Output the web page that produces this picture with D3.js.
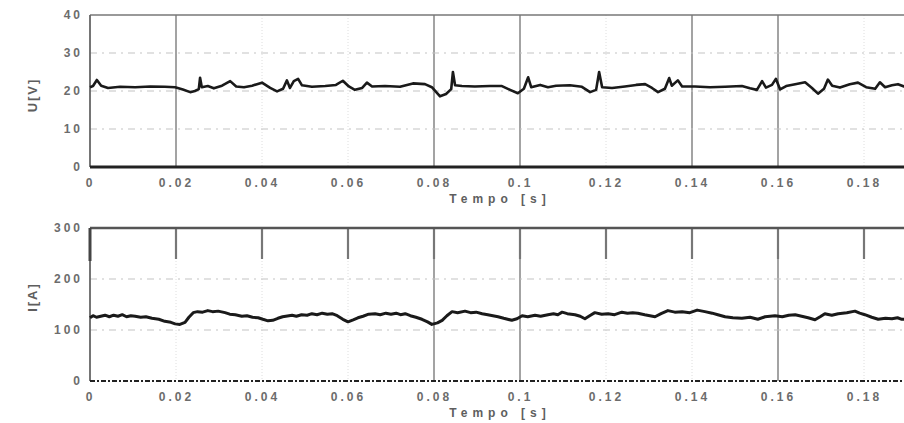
<!DOCTYPE html>
<html>
<head>
<meta charset="utf-8">
<script src="https://cdn.jsdelivr.net/npm/d3@7"></script>
<style>
    body { margin: 0; background: #fff; }
    svg { display: block; }
    .tick text { font-family: "Liberation Sans", Arial, sans-serif; font-size: 12px; font-weight: bold; fill: #6c6c6c; letter-spacing: 3px; }
    .title { font-family: "Liberation Sans", Arial, sans-serif; font-size: 12px; font-weight: bold; fill: #5e5e5e; letter-spacing: 5px; }
</style>
</head>
<body>
<svg width="904" height="423"></svg>
<script>
// time ticks [s]
var xTicks = [0, 0.02, 0.04, 0.06, 0.08, 0.1, 0.12, 0.14, 0.16, 0.18];
var uTicks = [0, 10, 20, 30, 40];
var iTicks = [0, 100, 200, 300];

// voltage trace U[V]
var uTime = [0, 0.0007, 0.0016, 0.0026, 0.0042, 0.007, 0.0105, 0.014, 0.0174, 0.0198,
    0.0216, 0.0233, 0.0244, 0.0253, 0.0256, 0.026, 0.0274, 0.0288, 0.0307, 0.0326,
    0.034, 0.0358, 0.0377, 0.04, 0.0419, 0.0435, 0.0449, 0.0458, 0.0465, 0.0474,
    0.0484, 0.0493, 0.0516, 0.0547, 0.0572, 0.0588, 0.0602, 0.0616, 0.0633, 0.0644,
    0.0656, 0.0686, 0.0721, 0.0751, 0.0779, 0.0795, 0.0814, 0.0828, 0.084, 0.0844,
    0.0849, 0.0865, 0.0895, 0.093, 0.0958, 0.0977, 0.0995, 0.1009, 0.1019, 0.1026,
    0.1047, 0.1065, 0.1084, 0.1116, 0.1144, 0.1163, 0.1177, 0.1184, 0.1191, 0.1214,
    0.1244, 0.127, 0.1291, 0.1307, 0.1321, 0.1337, 0.1347, 0.1353, 0.1367, 0.1377,
    0.1407, 0.1442, 0.1477, 0.1516, 0.1535, 0.1551, 0.1563, 0.1572, 0.1586, 0.1595,
    0.1605, 0.1619, 0.164, 0.1663, 0.1679, 0.1693, 0.1707, 0.1716, 0.1726, 0.1744,
    0.1767, 0.1786, 0.1805, 0.1826, 0.1837, 0.1849, 0.1865, 0.1879, 0.1893, 0.1907];
var uVolt = [21.0, 21.3, 22.9, 21.4, 20.8, 21.1, 21.0, 21.2, 21.1, 21.0,
    20.4, 19.7, 20.0, 20.5, 23.5, 21.0, 21.3, 20.7, 21.4, 22.6,
    21.2, 21.0, 21.4, 22.2, 20.8, 19.9, 20.6, 22.8, 20.8, 22.6,
    23.2, 21.5, 21.1, 21.3, 21.6, 22.7, 21.2, 20.3, 20.8, 22.2,
    21.2, 21.3, 21.1, 22.0, 21.8, 21.0, 18.6, 19.2, 20.5, 25.0,
    21.5, 21.3, 21.2, 21.3, 21.3, 20.3, 19.4, 20.6, 23.6, 21.0,
    21.6, 21.0, 21.4, 21.5, 21.1, 19.7, 20.3, 25.0, 21.0, 20.8,
    21.2, 21.6, 21.8, 20.8, 19.7, 20.6, 23.4, 21.4, 22.8, 21.2,
    21.2, 21.0, 21.1, 21.3, 20.7, 20.3, 22.6, 20.9, 21.6, 23.2,
    20.4, 21.3, 21.8, 22.3, 20.8, 19.3, 20.6, 23.0, 21.4, 20.9,
    21.8, 22.2, 21.0, 20.6, 22.3, 21.0, 21.5, 21.8, 21.2, 21.0];

// current trace I[A]
var iTime = [0, 0.0007, 0.0015, 0.0025, 0.0035, 0.0045, 0.0055, 0.0065, 0.0075, 0.0085,
    0.0095, 0.0105, 0.0118, 0.013, 0.0144, 0.016, 0.0174, 0.0188, 0.0198, 0.0209,
    0.0215, 0.0221, 0.023, 0.024, 0.025, 0.0262, 0.0274, 0.0285, 0.0298, 0.0314,
    0.0325, 0.0338, 0.0353, 0.0365, 0.0378, 0.0391, 0.0402, 0.0414, 0.0425, 0.0437,
    0.0448, 0.047, 0.048, 0.0492, 0.0505, 0.0516, 0.0528, 0.054, 0.0552, 0.0563,
    0.0575, 0.0588, 0.06, 0.0612, 0.0623, 0.0635, 0.0648, 0.0663, 0.0675, 0.0688,
    0.07, 0.0712, 0.0722, 0.0733, 0.0745, 0.0758, 0.0772, 0.0785, 0.0795, 0.0808,
    0.0819, 0.083, 0.0842, 0.0855, 0.0872, 0.0885, 0.0898, 0.0912, 0.0925, 0.0937,
    0.0949, 0.0962, 0.0981, 0.0993, 0.1005, 0.1018, 0.1035, 0.1048, 0.1065, 0.1078,
    0.1088, 0.1098, 0.111, 0.1128, 0.114, 0.1151, 0.1162, 0.1174, 0.119, 0.1205,
    0.122, 0.1237, 0.125, 0.1262, 0.1274, 0.129, 0.1302, 0.1314, 0.1328, 0.1344,
    0.136, 0.1377, 0.1395, 0.1412, 0.143, 0.1447, 0.146, 0.1477, 0.1495, 0.1516,
    0.1535, 0.1553, 0.157, 0.1593, 0.161, 0.1625, 0.164, 0.1655, 0.167, 0.1686,
    0.1698, 0.1709, 0.1725, 0.174, 0.176, 0.1779, 0.179, 0.1802, 0.1818, 0.1833,
    0.185, 0.1865, 0.1878, 0.1888, 0.1907];
var iAmp = [124, 128, 125, 127, 129, 126, 129, 127, 130, 126,
    128, 127, 125, 126, 123, 121, 117, 115, 112, 111,
    113, 115, 125, 134, 136, 135, 138, 136, 137, 134,
    131, 130, 127, 128, 125, 124, 121, 118, 119, 123,
    126, 129, 127, 130, 129, 132, 130, 133, 131, 132,
    128, 121, 116, 120, 124, 127, 131, 132, 130, 133,
    131, 133, 130, 132, 128, 125, 121, 116, 111, 114,
    119, 128, 136, 134, 137, 134, 135, 132, 130, 128,
    126, 123, 119, 122, 128, 126, 129, 127, 130, 132,
    130, 135, 132, 130, 127, 122, 128, 134, 131, 132,
    130, 135, 133, 134, 133, 130, 128, 126, 132, 138,
    135, 136, 134, 139, 136, 133, 130, 126, 124, 123,
    125, 121, 126, 128, 126, 129, 130, 127, 124, 120,
    126, 132, 129, 132, 134, 137, 133, 130, 125, 121,
    123, 122, 124, 121, 122];

var svg = d3.select('svg');

var x = d3.scaleLinear().domain([0, 0.2]).range([90, 950]);

/**
 * draws one oscilloscope panel
 */
function drawPanel(cfg) {
    var y = d3.scaleLinear().domain(cfg.domain).range([cfg.bottom, cfg.top]);
    var g = svg.append('g');
    var yMax = cfg.domain[1];
    var isDark = function (d) { return cfg.darkLines.indexOf(d) >= 0; };

    // vertical grid
    g.selectAll('line.vgrid')
        .data(xTicks.slice(1))
        .enter()
        .append('line')
        .attr('x1', function (d) { return x(d); })
        .attr('x2', function (d) { return x(d); })
        .attr('y1', y(yMax))
        .attr('y2', y(0))
        .style('stroke', function (d) { return isDark(d) ? '#999' : '#dedede'; })
        .style('stroke-width', function (d) { return isDark(d) ? 1.8 : 1; })
        .style('stroke-dasharray', function (d) { return isDark(d) ? null : '1,2'; });

    // short tick marks hanging from the top border
    if (cfg.topTicks) {
        g.selectAll('line.tt')
            .data(xTicks.slice(1))
            .enter()
            .append('line')
            .attr('x1', function (d) { return x(d); })
            .attr('x2', function (d) { return x(d); })
            .attr('y1', y(yMax))
            .attr('y2', y(yMax) + 31)
            .style('stroke', '#777')
            .style('stroke-width', 2.2);
    }

    // horizontal dash-dot grid
    g.selectAll('line.hgrid')
        .data(cfg.ticks.slice(1, -1))
        .enter()
        .append('line')
        .attr('x1', x(0))
        .attr('x2', 904)
        .attr('y1', function (d) { return y(d); })
        .attr('y2', function (d) { return y(d); })
        .style('stroke', '#c4c4c4')
        .style('stroke-width', 1.2)
        .style('stroke-dasharray', '7,5,2,5');

    // frame
    g.append('line')
        .attr('x1', x(0)).attr('x2', 904)
        .attr('y1', y(yMax)).attr('y2', y(yMax))
        .style('stroke', cfg.topTicks ? '#555' : '#777')
        .style('stroke-width', cfg.topTicks ? 2.6 : 1.6);
    g.append('line')
        .attr('x1', x(0)).attr('x2', x(0))
        .attr('y1', y(yMax)).attr('y2', y(0))
        .style('stroke', '#666').style('stroke-width', 1.8);
    if (cfg.topTicks) {
        g.append('line')
            .attr('x1', x(0)).attr('x2', x(0))
            .attr('y1', y(yMax)).attr('y2', y(yMax) + 33)
            .style('stroke', '#444').style('stroke-width', 3);
    }

    // zero trace
    g.append('line')
        .attr('x1', x(0)).attr('x2', 904)
        .attr('y1', y(0)).attr('y2', y(0))
        .style('stroke', '#222')
        .style('stroke-width', cfg.zeroDotted ? 2 : 3)
        .style('stroke-dasharray', cfg.zeroDotted ? '5,2,2,2' : null);

    // signal
    var line = d3.line()
        .x(function (d, i) { return x(cfg.t[i]); })
        .y(function (d) { return y(d); });
    g.append('path')
        .datum(cfg.v)
        .attr('d', line)
        .style('fill', 'none')
        .style('stroke', '#1a1a1a')
        .style('stroke-width', cfg.width)
        .style('stroke-linejoin', 'round');

    // axes
    var xAxis = d3.axisBottom(x).tickValues(xTicks).tickSize(0).tickPadding(0)
        .tickFormat(function (d) { return d === 0 ? '0' : d3.format('~g')(d); });
    var ax = g.append('g')
        .attr('transform', 'translate(0,' + (y(0) + 11) + ')')
        .call(xAxis);
    ax.select('.domain').remove();

    var yAxis = d3.axisLeft(y).tickValues(cfg.ticks).tickSize(0).tickPadding(7);
    var ay = g.append('g')
        .attr('transform', 'translate(' + x(0) + ',0)')
        .call(yAxis);
    ay.select('.domain').remove();

    g.append('text')
        .attr('class', 'title')
        .attr('x', 500)
        .attr('y', y(0) + 36)
        .attr('text-anchor', 'middle')
        .text('Tempo [s]');

    g.append('text')
        .attr('class', 'title')
        .attr('transform', 'translate(37,' + cfg.labelY + ') rotate(-90)')
        .attr('text-anchor', 'middle')
        .style('font-size', '13px')
        .style('letter-spacing', '2px')
        .text(cfg.label);
}

drawPanel({
    domain: [0, 40], top: 15, bottom: 167, ticks: uTicks,
    t: uTime, v: uVolt, width: 2.6, label: 'U[V]', labelY: 95,
    darkLines: [0.02, 0.08, 0.1, 0.14, 0.16], topTicks: false, zeroDotted: false
});

drawPanel({
    domain: [0, 300], top: 228, bottom: 381, ticks: iTicks,
    t: iTime, v: iAmp, width: 3, label: 'I[A]', labelY: 297,
    darkLines: [0.08, 0.1, 0.16], topTicks: true, zeroDotted: true
});
</script>
</body>
</html>
